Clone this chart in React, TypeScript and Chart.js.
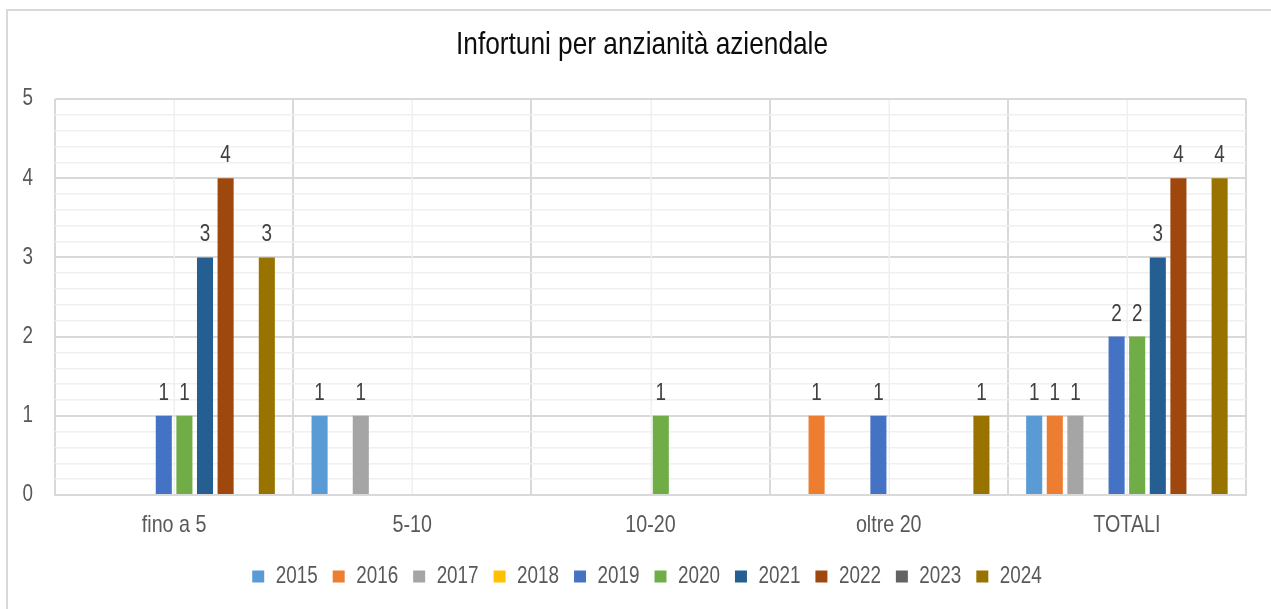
import React, { useEffect, useRef } from 'react';
import { Chart, registerables } from 'chart.js';

Chart.register(...registerables);

const FONT = "'Liberation Sans', Arial, sans-serif";
const NARROW = 0.82;

const categories = ['fino a 5', '5-10', '10-20', 'oltre 20', 'TOTALI'];
const years = ['2015', '2016', '2017', '2018', '2019', '2020', '2021', '2022', '2023', '2024'];

const v2015 = [null, 1, null, null, 1];
const v2016 = [null, null, null, 1, 1];
const v2017 = [null, 1, null, null, 1];
const v2018 = [null, null, null, null, null];
const v2019 = [1, null, null, 1, 2];
const v2020 = [1, null, 1, null, 2];
const v2021 = [3, null, null, null, 3];
const v2022 = [4, null, null, null, 4];
const v2023 = [null, null, null, null, null];
const v2024 = [3, null, null, 1, 4];

const seriesValues = [v2015, v2016, v2017, v2018, v2019, v2020, v2021, v2022, v2023, v2024];
const seriesColors = ['#5B9BD5', '#ED7D31', '#A5A5A5', '#FFC000', '#4472C4', '#70AD47', '#255E91', '#9E480E', '#636363', '#997300'];

const yTicksMin = 0;
const yTicksMax = 5;
const yMinorStep = 0.2;

const isInt = (v: number) => Math.abs(v - Math.round(v)) < 1e-6;

// Render all canvas text horizontally condensed (Arial Narrow look-alike).
function narrowContext(ctx: any) {
  if (!ctx || ctx.__narrowed) return;
  ctx.__narrowed = true;
  const origFill = ctx.fillText.bind(ctx);
  const origMeasure = ctx.measureText.bind(ctx);
  ctx.fillText = (text: string, x: number, y: number, maxWidth?: number) => {
    ctx.save();
    ctx.translate(x, y);
    ctx.scale(NARROW, 1);
    if (maxWidth !== undefined && maxWidth !== null) origFill(text, 0, 0, maxWidth / NARROW);
    else origFill(text, 0, 0);
    ctx.restore();
  };
  ctx.measureText = (text: string) => {
    const m = origMeasure(text);
    return {
      width: m.width * NARROW,
      actualBoundingBoxLeft: m.actualBoundingBoxLeft * NARROW,
      actualBoundingBoxRight: m.actualBoundingBoxRight * NARROW,
      actualBoundingBoxAscent: m.actualBoundingBoxAscent,
      actualBoundingBoxDescent: m.actualBoundingBoxDescent,
      fontBoundingBoxAscent: m.fontBoundingBoxAscent,
      fontBoundingBoxDescent: m.fontBoundingBoxDescent,
    };
  };
}

const minorVerticalGrid = {
  id: 'minorVerticalGrid',
  beforeDatasetsDraw(chart: any) {
    const { ctx, chartArea } = chart;
    const xs = chart.scales.x;
    ctx.save();
    ctx.strokeStyle = '#efefef';
    ctx.lineWidth = 1.5;
    categories.forEach((_, i) => {
      const x = Math.round(xs.getPixelForValue(i)) + 0.25;
      ctx.beginPath();
      ctx.moveTo(x, chartArea.top + 1);
      ctx.lineTo(x, chartArea.bottom - 1);
      ctx.stroke();
    });
    ctx.restore();
  },
};

const barLabels = {
  id: 'barLabels',
  afterDatasetsDraw(chart: any) {
    const { ctx } = chart;
    ctx.save();
    ctx.font = `23px ${FONT}`;
    ctx.fillStyle = '#404040';
    ctx.textAlign = 'center';
    ctx.textBaseline = 'alphabetic';
    chart.data.datasets.forEach((ds: any, i: number) => {
      const meta = chart.getDatasetMeta(i);
      meta.data.forEach((bar: any, j: number) => {
        const v = ds.data[j];
        if (v === null || v === undefined) return;
        ctx.fillText(String(v), bar.x, bar.y - 16);
      });
    });
    ctx.restore();
  },
};

// The original chart area sits slightly right of the canvas; nudge title and legend.
const shiftBoxes = {
  id: 'shiftBoxes',
  afterLayout(chart: any) {
    const t = chart.titleBlock;
    if (t) { t.left += 8; t.right += 8; }
    const l = chart.legend;
    if (l) { l.left += 13; l.right += 13; }
  },
};

export default function App() {
  const canvasRef = useRef<HTMLCanvasElement | null>(null);

  useEffect(() => {
    if (!canvasRef.current) return;
    const ctx = canvasRef.current.getContext('2d');
    narrowContext(ctx);
    const chart = new Chart(ctx as any, {
      type: 'bar',
      data: {
        labels: categories,
        datasets: years.map((y, i) => ({
          label: y,
          data: seriesValues[i],
          backgroundColor: seriesColors[i],
          borderWidth: 0,
          categoryPercentage: 0.865,
          barPercentage: 0.78,
        })),
      },
      options: {
        responsive: false,
        animation: false,
        devicePixelRatio: 1,
        layout: { padding: { left: 22, right: 25, top: 0, bottom: 11 } },
        plugins: {
          title: {
            display: true,
            text: 'Infortuni per anzianità aziendale',
            color: '#0d0d0d',
            font: { family: FONT, size: 32, weight: 'normal' },
            padding: { top: 26, bottom: 34.6 },
          },
          legend: {
            position: 'bottom',
            labels: {
              boxWidth: 12,
              boxHeight: 12,
              padding: 15,
              color: '#595959',
              font: { family: FONT, size: 23 },
            },
          },
          tooltip: { enabled: false },
        },
        scales: {
          x: {
            grid: { offset: true, color: '#d9d9d9', lineWidth: 2, drawTicks: false },
            border: { color: '#d9d9d9', width: 2 },
            ticks: {
              color: '#595959',
              font: { family: FONT, size: 24 },
              padding: 16,
              maxRotation: 0,
              autoSkip: false,
            },
            afterFit: (s: any) => { s.height = 55; },
          },
          y: {
            min: yTicksMin,
            max: yTicksMax,
            grid: {
              color: (c: any) => (isInt(c.tick.value) ? '#d9d9d9' : '#f0f0f0'),
              lineWidth: (c: any) => (isInt(c.tick.value) ? 2 : 1.5),
              drawTicks: false,
            },
            border: { display: false },
            ticks: {
              stepSize: yMinorStep,
              maxTicksLimit: 40,
              autoSkip: false,
              padding: 22,
              color: '#595959',
              font: { family: FONT, size: 23 },
              callback: (v: any) => (isInt(Number(v)) ? String(Math.round(Number(v))) : ''),
            },
            afterFit: (s: any) => { s.width = 33; },
          },
        },
      },
      plugins: [minorVerticalGrid, barLabels, shiftBoxes],
    });
    return () => chart.destroy();
  }, []);

  return (
    <div style={{ position: 'absolute', left: 0, top: 0, width: 1271, height: 609, overflow: 'hidden', background: '#fff' }}>
      <div style={{ position: 'absolute', left: 6, top: 9, width: 1300, height: 700, borderLeft: '2px solid #d9d9d9', borderTop: '2px solid #d9d9d9', boxSizing: 'border-box' }} />
      <canvas ref={canvasRef} width={1271} height={609} style={{ position: 'absolute', left: 0, top: 0 }} />
    </div>
  );
}
